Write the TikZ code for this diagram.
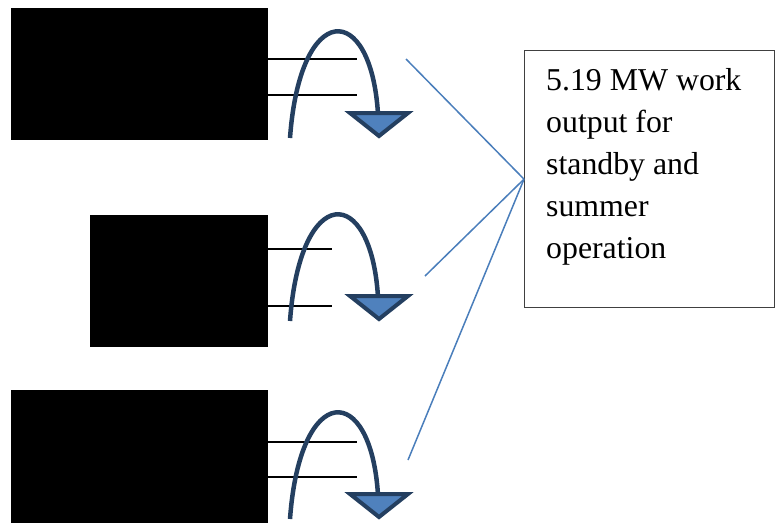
\documentclass[tikz,border=0pt]{standalone}
\usepackage{fontspec}
\setmainfont{Liberation Serif}
\definecolor{arcnavy}{HTML}{243F60}
\definecolor{trifill}{HTML}{4F81BD}
\definecolor{linkblue}{HTML}{4A7EBB}
\definecolor{boxgray}{HTML}{404040}
\tikzset{
  blackbox/.style={fill=black, draw=none, inner sep=0pt, anchor=north west},
  shaftline/.style={draw=black, line width=1.2pt},
  arcline/.style={draw=arcnavy, line width=4.5pt},
  tri/.style={draw=arcnavy, fill=trifill, line width=4pt, line join=miter},
  linkline/.style={draw=linkblue, line width=1.5pt},
  textbox/.style={draw=boxgray, line width=1.3pt, fill=white, inner sep=0pt, anchor=north west}
}
\begin{document}
\begin{tikzpicture}[x=1pt,y=-1pt]
\useasboundingbox (0,0) rectangle (775,523);
% black blocks
\node[blackbox, minimum width=257pt, minimum height=132pt] (b1) at (11,8) {};
\node[blackbox, minimum width=178pt, minimum height=132pt] (b2) at (90,215) {};
\node[blackbox, minimum width=257pt, minimum height=133pt] (b3) at (11,390) {};
% shaft lines
\coordinate (l1a) at (357,59);  \coordinate (l1b) at (357,95);
\coordinate (l2a) at (332,249); \coordinate (l2b) at (332,306);
\coordinate (l3a) at (357,442); \coordinate (l3b) at (357,477);
\draw[shaftline] (b1.east |- l1a) -- (l1a);
\draw[shaftline] (b1.east |- l1b) -- (l1b);
\draw[shaftline] (b2.east |- l2a) -- (l2a);
\draw[shaftline] (b2.east |- l2b) -- (l2b);
\draw[shaftline] (b3.east |- l3a) -- (l3a);
\draw[shaftline] (b3.east |- l3b) -- (l3b);
% curved arrows
\foreach \dy in {0,183,381}{
  \begin{scope}[shift={(0,\dy)}]
    \draw[arcline] (290,138) .. controls (300,0) and (371,0) .. (378,114);
    \draw[tri] (350,113) -- (408,113) -- (379,136) -- cycle;
  \end{scope}
}
% text box
\node[textbox, minimum width=250pt, minimum height=257pt] (txt) at (524,50) {};
\node[anchor=north west, align=left, inner sep=0pt,
      font=\fontsize{31.8pt}{42pt}\selectfont] (label) at (546,68.3)
  {5.19 MW work\\output for\\standby and\\summer\\operation};
% connectors
\coordinate (s1) at (406,59);
\coordinate (s2) at (425,276);
\coordinate (s3) at (408,460);
\draw[linkline] (s1) -- (txt.west);
\draw[linkline] (s2) -- (txt.west);
\draw[linkline] (s3) -- (txt.west);
\end{tikzpicture}
\end{document}
